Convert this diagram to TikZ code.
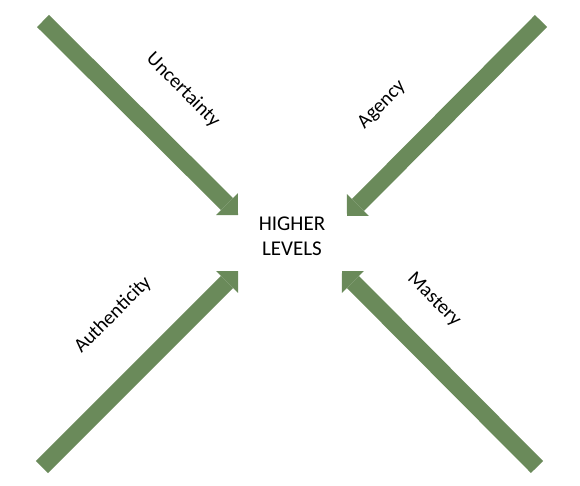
\documentclass[tikz,border=0pt]{standalone}
\usepackage{fontspec}
\setmainfont{Carlito}
\usetikzlibrary{arrows.meta}
\definecolor{arrowgreen}{RGB}{106,138,90}
\begin{document}
\begin{tikzpicture}[x=1pt,y=-1pt,
  bigarrow/.style={draw=arrowgreen,line width=17pt,line cap=butt,
    -{Triangle[width=31pt,length=15.5pt,line width=0pt,fill=arrowgreen]}},
  lbl/.style={font=\fontsize{20}{23}\selectfont,inner sep=0pt},
  centertext/.style={font=\fontsize{21}{25}\selectfont,align=center,inner sep=0pt}]
\useasboundingbox (0,0) rectangle (580,486);
\node[centertext] (hl) at (292,236) {HIGHER\\LEVELS};
\coordinate (ulT) at (43,21);  \coordinate (ulH) at (238,215);
\coordinate (urT) at (541,21); \coordinate (urH) at (347,216);
\coordinate (llT) at (42,467); \coordinate (llH) at (238,271);
\coordinate (lrT) at (537,467);\coordinate (lrH) at (342,271);
\draw[bigarrow] (ulT) -- (ulH);
\draw[bigarrow] (urT) -- (urH);
\draw[bigarrow] (llT) -- (llH);
\draw[bigarrow] (lrT) -- (lrH);
\node[lbl,rotate=-45] (unc) at (183,90) {Uncertainty};
\node[lbl,rotate=45] (age) at (382,105) {Agency};
\node[lbl,rotate=45] (aut) at (113,315) {Authenticity};
\node[lbl,rotate=-45] (mas) at (434,300) {Mastery};
\end{tikzpicture}
\end{document}
